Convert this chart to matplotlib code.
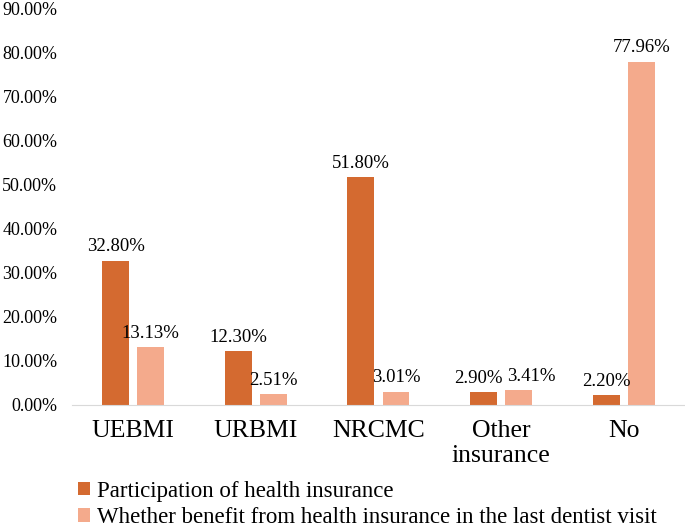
import numpy as np
import matplotlib.pyplot as plt

plt.rcParams['font.family'] = ['Liberation Serif', 'DejaVu Serif']

categories = ['UEBMI', 'URBMI', 'NRCMC', 'Other\ninsurance', 'No']
participation = [32.80, 12.30, 51.80, 2.90, 2.20]
benefit = [13.13, 2.51, 3.01, 3.41, 77.96]
series_names = ['Participation of health insurance',
                'Whether benefit from health insurance in the last dentist visit']
colors = ['#D46A30', '#F4AA8C']

fig = plt.figure(figsize=(6.85, 5.27), dpi=100)
ax = fig.add_axes([0.105, 0.2315, 0.895, 0.752])

x = np.arange(len(categories))
w = 0.22
off = 0.143
b1 = ax.bar(x - off, participation, w, color=colors[0], label=series_names[0])
b2 = ax.bar(x + off, benefit, w, color=colors[1], label=series_names[1])

# small nudges so the "Other insurance" labels don't collide
nudge1 = [0, 0, 0, -0.04, 0]
nudge2 = [0, 0, 0, 0.10, 0]
for bars, vals, nd in [(b1, participation, nudge1), (b2, benefit, nudge2)]:
    for r, v, n in zip(bars, vals, nd):
        ax.text(r.get_x() + r.get_width() / 2 + n, v + 1.2, '%.2f%%' % v,
                ha='center', va='bottom', fontsize=13.5)

ax.set_xlim(-0.5, len(categories) - 0.5)
ax.set_ylim(0, 90)
ax.set_yticks(np.arange(0, 91, 10))
ax.set_yticklabels(['%.2f%%' % t for t in np.arange(0, 91, 10)], fontsize=13)
ax.set_xticks(x)
ax.set_xticklabels(categories, fontsize=18.5, linespacing=1.15)
ax.tick_params(axis='both', length=0)
ax.tick_params(axis='x', pad=11)
ax.tick_params(axis='y', pad=10.5)
for s in ['top', 'right', 'left']:
    ax.spines[s].set_visible(False)
ax.spines['bottom'].set_color('#D9D9D9')

fig.legend(loc='lower left', bbox_to_anchor=(0.09, -0.033), frameon=False,
           fontsize=16.5, handlelength=0.55, handleheight=0.55, handletextpad=0.3,
           labelspacing=0.25, borderpad=0.2)

fig.savefig('out.png', dpi=100)
